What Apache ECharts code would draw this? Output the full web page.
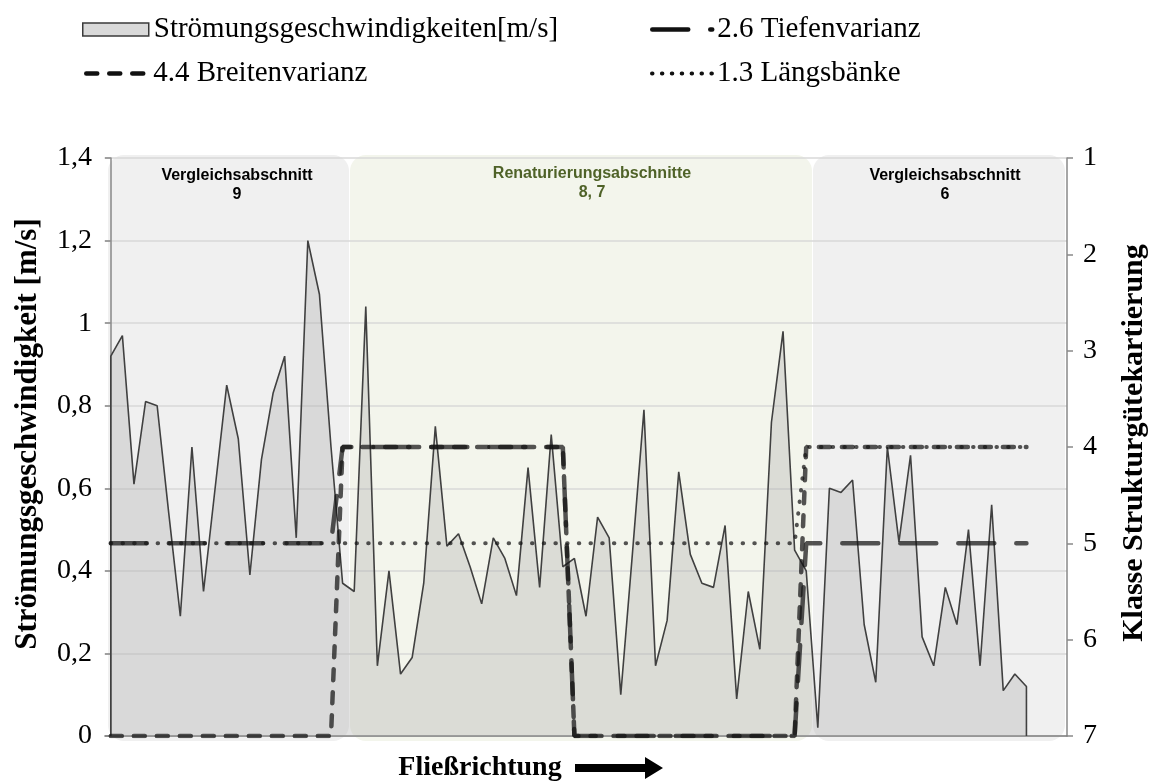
<!DOCTYPE html>
<html><head><meta charset="utf-8">
<script src="https://cdn.jsdelivr.net/npm/echarts@6/dist/echarts.min.js"></script>
<style>html,body{margin:0;padding:0;background:#fff}#c{width:1150px;height:784px}</style>
</head><body><div id="c"></div>
<script>
// ---- data ----
const velocities = [
  0.92,0.97,0.61,0.81,0.80,0.54,0.29,0.70,0.35,0.60,0.85,0.72,0.39,0.67,0.83,0.92,0.48,1.20,1.07,0.70,
  0.37,0.35,1.04,0.17,0.40,0.15,0.19,0.37,0.75,0.46,0.49,0.41,0.32,0.48,0.43,0.34,0.65,0.36,0.73,0.41,
  0.43,0.29,0.53,0.48,0.10,0.44,0.79,0.17,0.28,0.64,0.44,0.37,0.36,0.51,0.09,0.35,0.21,0.76,0.98,0.45,
  0.40,0.02,0.60,0.59,0.62,0.27,0.13,0.70,0.47,0.68,0.24,0.17,0.36,0.27,0.50,0.17,0.56,0.11,0.15,0.12
];
const sectionStart = [0, 20, 40, 60];
const sectionEnd = [19, 39, 59, 79];
const tiefenvarianz = [5, 4, 7, 5];
const breitenvarianz = [7, 4, 7, 4];
const laengsbaenke = [5, 5, 5, 4];
const leftTickLabels = ['0','0,2','0,4','0,6','0,8','1','1,2','1,4'];
const rightTickLabels = ['1','2','3','4','5','6','7'];
const sectionLabels = ['Vergleichsabschnitt\n9','Renaturierungsabschnitte\n8, 7','Vergleichsabschnitt\n6'];
const seriesNames = ['Strömungsgeschwindigkeiten[m/s]','2.6 Tiefenvarianz','4.4 Breitenvarianz','1.3 Längsbänke'];
const axisTitles = ['Strömungsgeschwindigkeit [m/s]','Klasse Strukturgütekartierung','Fließrichtung'];

// ---- build ----
function stepLine(classes){
  const pts = [];
  classes.forEach((c,k)=>{ pts.push([sectionStart[k], c]); pts.push([sectionEnd[k], c]); });
  return pts;
}
const areaData = [[0,0]].concat(velocities.map((v,i)=>[i,v])).concat([[velocities.length-1,0]]);

const SERIF = 'Liberation Serif';
const lineCol = 'rgba(20,20,20,0.72)';
const dashT = [36,22], dashB = [11,12], dashL = [0.5,11.2];
const chart = echarts.init(document.getElementById('c'), null, {renderer:'canvas'});
const legendText = {fontFamily:SERIF, fontSize:29, color:'#000'};

chart.setOption({
  animation:false,
  backgroundColor:'#ffffff',
  grid:{left:105, right:83, top:158, bottom:48, containLabel:false, outerBoundsMode:'none'},
  legend:[
    {left:82, top:15, padding:0, itemWidth:66, itemHeight:13, selectedMode:false, textStyle:legendText,
     data:[{name:seriesNames[0], icon:'rect', itemStyle:{color:'#d9d9d9', borderColor:'#3a3a3a', borderWidth:1.5}}]},
    {left:650, top:15, padding:0, itemWidth:60, itemHeight:13, selectedMode:false, textStyle:legendText,
     data:[{name:seriesNames[1], itemStyle:{opacity:0}, lineStyle:{color:'#111', width:4.5, type:dashT, cap:'round'}}]},
    {left:84, top:59, padding:0, itemWidth:62, itemHeight:13, selectedMode:false, textStyle:legendText,
     data:[{name:seriesNames[2], itemStyle:{opacity:0}, lineStyle:{color:'#111', width:4.5, type:dashB, cap:'round'}}]},
    {left:650, top:59, padding:0, itemWidth:60, itemHeight:13, selectedMode:false, textStyle:legendText,
     data:[{name:seriesNames[3], itemStyle:{opacity:0}, lineStyle:{color:'#111', width:4, type:[0.5,9.4], cap:'round'}}]}
  ],
  xAxis:{type:'value', min:-0.5, max:82.5,
    name:axisTitles[2], nameLocation:'middle', nameGap:18,
    nameTextStyle:{fontFamily:SERIF, fontSize:28, fontWeight:'bold', color:'#000', padding:[0,212,0,0]},
    axisLine:{show:true, onZero:false, lineStyle:{color:'#7f7f7f', width:1.5}},
    axisTick:{show:false}, axisLabel:{show:false}, splitLine:{show:false}},
  yAxis:[
    {type:'value', min:0, max:1.4, interval:0.2, position:'left',
     name:axisTitles[0], nameLocation:'middle', nameRotate:90, nameGap:62,
     nameTextStyle:{fontFamily:SERIF, fontSize:31, fontWeight:'bold', color:'#000', padding:[0,0,0,26]},
     axisLine:{show:true, lineStyle:{color:'#898989', width:1.5}},
     axisTick:{show:true, length:6, lineStyle:{color:'#898989', width:1.5}},
     axisLabel:{margin:13, fontFamily:SERIF, fontSize:28, color:'#000',
       formatter:(v)=>leftTickLabels[Math.round(v/0.2)]},
     splitLine:{show:true, lineStyle:{color:'#d9d9d9', width:1.5}}},
    {type:'value', min:1, max:7, interval:1, inverse:true, position:'right',
     name:axisTitles[1], nameLocation:'middle', nameRotate:90, nameGap:52,
     nameTextStyle:{fontFamily:SERIF, fontSize:30, fontWeight:'bold', color:'#000', padding:[0,0,0,8]},
     axisLine:{show:true, lineStyle:{color:'#898989', width:1.5}},
     axisTick:{show:true, length:6, lineStyle:{color:'#898989', width:1.5}},
     axisLabel:{margin:16, fontFamily:SERIF, fontSize:28, color:'#000',
       formatter:(v)=>rightTickLabels[Math.round(v)-1]},
     splitLine:{show:false}}
  ],
  series:[
    {name:seriesNames[0], type:'line', data:areaData, symbol:'none', silent:true, z:2,
     lineStyle:{color:'#404040', width:1.6}, itemStyle:{color:'#d9d9d9'},
     areaStyle:{color:'rgb(170,170,170)', opacity:0.33}},
    {name:seriesNames[1], type:'line', yAxisIndex:1, data:stepLine(tiefenvarianz), symbol:'none', silent:true, z:3,
     itemStyle:{color:lineCol}, lineStyle:{color:lineCol, width:4.5, type:dashT, cap:'round'}},
    {name:seriesNames[2], type:'line', yAxisIndex:1, data:stepLine(breitenvarianz), symbol:'none', silent:true, z:3,
     itemStyle:{color:lineCol}, lineStyle:{color:lineCol, width:4.5, type:dashB, cap:'round'}},
    {name:seriesNames[3], type:'line', yAxisIndex:1, data:stepLine(laengsbaenke), symbol:'none', silent:true, z:3,
     itemStyle:{color:lineCol}, lineStyle:{color:lineCol, width:4, type:dashL, cap:'round'}}
  ],
  graphic:[
    {type:'rect', z:-10, silent:true, shape:{x:108, y:155, width:241, height:586, r:16}, style:{fill:'#f0f0f0'}},
    {type:'rect', z:-10, silent:true, shape:{x:350, y:155, width:462, height:586, r:16}, style:{fill:'#f3f5ec'}},
    {type:'rect', z:-10, silent:true, shape:{x:813, y:155, width:252, height:586, r:16}, style:{fill:'#f0f0f0'}},
    {type:'text', z:100, silent:true, x:237, y:185,
     style:{text:sectionLabels[0], fill:'#000', font:'bold 16px "Liberation Sans"', align:'center', verticalAlign:'middle', lineHeight:19}},
    {type:'text', z:100, silent:true, x:592, y:183,
     style:{text:sectionLabels[1], fill:'#4f6228', font:'bold 16px "Liberation Sans"', align:'center', verticalAlign:'middle', lineHeight:19}},
    {type:'text', z:100, silent:true, x:945, y:185,
     style:{text:sectionLabels[2], fill:'#000', font:'bold 16px "Liberation Sans"', align:'center', verticalAlign:'middle', lineHeight:19}},
    {type:'polygon', z:100, silent:true,
     shape:{points:[[575,764],[645,764],[645,757],[663,768],[645,779],[645,772],[575,772]]},
     style:{fill:'#000'}}
  ]
});
</script></body></html>
